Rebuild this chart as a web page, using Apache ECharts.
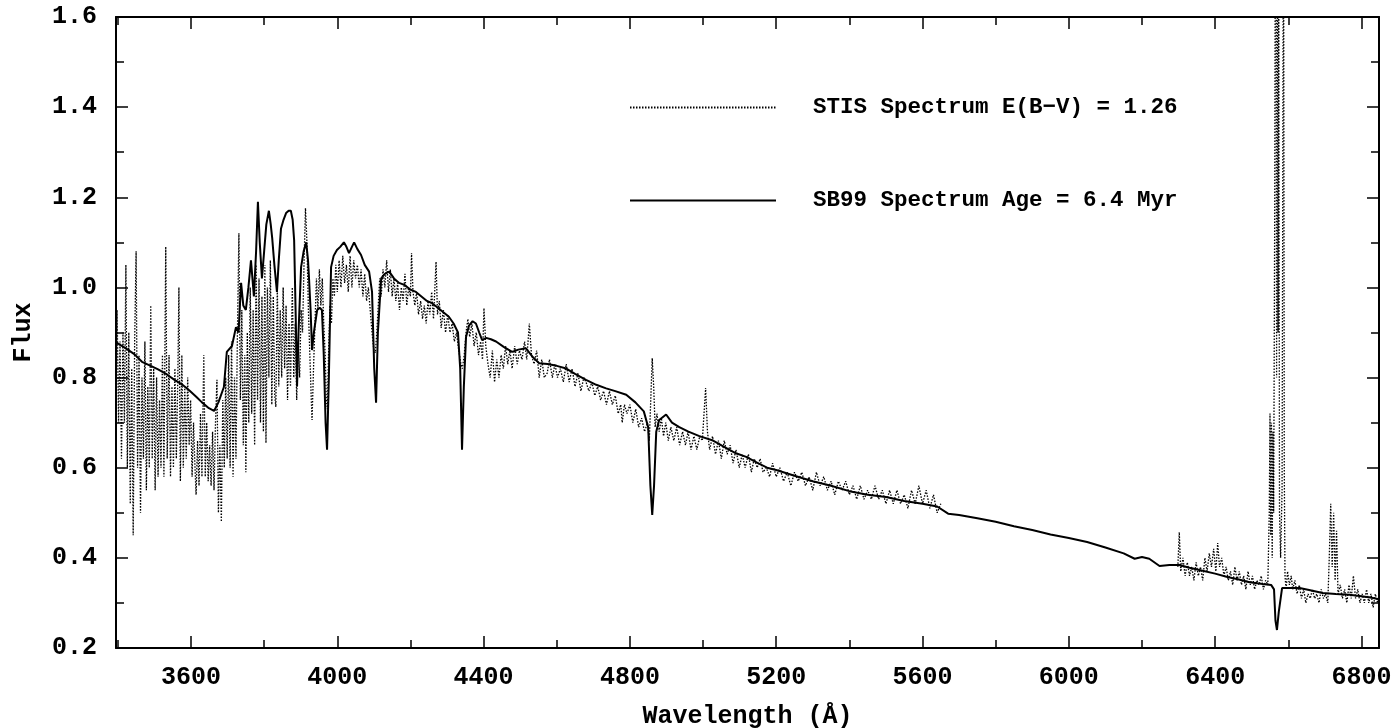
<!DOCTYPE html>
<html>
<head>
<meta charset="utf-8">
<script src="https://cdn.jsdelivr.net/npm/echarts@6/dist/echarts.min.js"></script>
<style>
  html, body { margin: 0; padding: 0; background: #fff; }
  #chart { width: 1395px; height: 728px; }
</style>
</head>
<body>
<div id="chart"></div>
<script>
// wavelength (A), flux pairs
var stisBlue = [
  [3395,0.74],[3398,0.95],[3402,0.7],[3406,0.88],[3410,0.62],[3414,0.9],[3418,0.7],[3422,1.05],[3426,0.6],[3430,0.9],
  [3434,0.52],[3438,0.82],[3442,0.45],[3446,0.88],[3450,1.08],[3454,0.6],[3458,0.85],[3462,0.5],[3466,0.8],[3470,0.62],
  [3474,0.88],[3478,0.55],[3482,0.78],[3486,0.6],[3490,0.96],[3494,0.62],[3498,0.82],[3502,0.55],[3506,0.8],[3510,0.58],
  [3514,0.75],[3518,0.6],[3522,0.85],[3526,0.58],[3531,1.09],[3535,0.62],[3540,0.85],[3544,0.58],[3548,0.78],[3552,0.6],
  [3556,0.82],[3560,0.62],[3564,0.8],[3567,1.0],[3571,0.57],[3575,0.85],[3579,0.6],[3583,0.78],[3587,0.62],[3591,0.8],
  [3595,0.65],[3599,0.75],[3603,0.58],[3607,0.7],[3611,0.6],[3614,0.54],[3618,0.66],[3622,0.56],[3626,0.72],[3630,0.58],
  [3635,0.85],[3639,0.58],[3643,0.7],[3647,0.57],[3651,0.65],[3655,0.56],[3659,0.68],[3663,0.55],[3667,0.7],[3671,0.795],
  [3675,0.5],[3679,0.65],[3683,0.48],[3687,0.75],[3691,0.6],[3695,0.8],[3699,0.62],[3703,0.85],[3707,0.6],[3711,0.88],
  [3715,0.58],[3719,0.8],[3723,0.62],[3727,0.9],[3731,1.12],[3735,0.75],[3739,0.95],[3743,0.65],[3747,0.85],[3750,0.59],
  [3754,0.9],[3758,0.7],[3762,1.0],[3766,0.72],[3770,0.95],[3774,0.65],[3778,1.05],[3782,0.75],[3786,1.02],[3790,0.7],
  [3794,0.98],[3798,0.68],[3802,1.05],[3805,0.655],[3809,1.0],[3813,0.8],[3817,1.06],[3821,0.74],[3825,0.98],[3829,0.76],
  [3832,0.735],[3836,1.0],[3840,0.78],[3844,0.95],[3848,0.8],[3852,1.0],[3856,0.82],[3860,0.96],[3864,0.75],[3868,0.92],
  [3872,0.78],[3877,1.0],[3881,0.8],[3885,0.92],[3889,0.75],[3893,0.88],[3897,0.8],[3901,0.95],[3905,0.9],[3909,1.05],
  [3913,1.176],[3917,1.1],[3921,0.95],[3925,0.85],[3929,0.75],[3931,0.706],[3935,0.82],[3939,0.92],[3943,1.02],[3947,0.95],
  [3951,1.04],[3955,0.96],[3959,1.02],[3963,0.92],[3967,0.85],[3970,0.75],[3973,0.73],[3976,0.85],[3980,0.96],[3984,0.92],
  [3988,1.02],[3992,0.98],[3996,1.05],[4000,0.99],[4005,1.06],[4010,1.0],[4015,1.07],[4020,1.01],[4025,1.05],[4030,0.99],
  [4035,1.07],[4040,1.0],[4045,1.06],[4050,1.02],[4055,1.05],[4060,1.0],[4065,1.04],[4070,0.98],[4075,1.03],[4080,0.97],
  [4085,1.0],[4090,0.95],[4095,0.9],[4100,0.86],[4104,0.855],[4108,0.9],[4112,0.96],[4116,1.02],[4120,0.98],[4125,1.04],
  [4130,1.0],[4135,1.06],[4140,0.99],[4145,1.04],[4150,0.98],[4155,1.02],[4160,0.97],[4165,1.01],[4170,0.95],[4175,1.0],
  [4180,0.97],[4185,1.03],[4190,0.96],[4195,1.0],[4200,0.98],[4203,1.076],[4207,0.99],[4212,0.96],[4217,0.99],[4222,0.94],
  [4228,0.97],[4233,0.93],[4238,0.96],[4243,0.92],[4248,0.97],[4253,0.94],[4258,0.99],[4263,0.93],[4270,1.057],[4274,0.94],
  [4279,0.97],[4284,0.91],[4290,0.95],[4296,0.9],[4302,0.94],[4308,0.9],[4314,0.92],[4320,0.88],[4326,0.9],[4332,0.86],
  [4338,0.83],[4342,0.82],[4347,0.85],[4352,0.9],[4357,0.93],[4362,0.89],[4368,0.92],[4374,0.87],[4380,0.9],[4386,0.85],
  [4392,0.88],[4397,0.84],[4401,0.954],[4406,0.87],[4412,0.83],[4418,0.8],[4424,0.86],[4430,0.79],[4436,0.84],[4442,0.8],
  [4448,0.85],[4454,0.82],[4460,0.87],[4466,0.83],[4472,0.86],[4478,0.82],[4485,0.87],[4492,0.83],[4498,0.86],[4505,0.84],
  [4512,0.88],[4518,0.84],[4525,0.92],[4531,0.85],[4538,0.83],[4545,0.86],[4552,0.8],[4559,0.84],[4566,0.8],[4574,0.81],
  [4580,0.84],[4588,0.8],[4595,0.83],[4602,0.8],[4610,0.82],[4618,0.79],[4626,0.83],[4634,0.79],[4642,0.82],[4650,0.78],
  [4658,0.81],[4666,0.77],[4674,0.8],[4680,0.79],[4688,0.77],[4696,0.79],[4704,0.76],[4712,0.78],[4720,0.75],[4728,0.77],
  [4736,0.74],[4744,0.77],[4752,0.74],[4760,0.76],[4768,0.72],[4775,0.74],[4779,0.7],[4785,0.74],[4792,0.72],[4800,0.74],
  [4808,0.7],[4816,0.73],[4824,0.69],[4832,0.71],[4840,0.68],[4848,0.7],[4853,0.66],[4857,0.75],[4861,0.843],[4865,0.78],
  [4869,0.69],[4874,0.72],[4880,0.68],[4886,0.71],[4892,0.67],[4898,0.7],[4905,0.66],[4912,0.69],[4920,0.66],[4928,0.69],
  [4936,0.65],[4944,0.68],[4952,0.65],[4959,0.68],[4967,0.64],[4975,0.67],[4983,0.64],[4991,0.67],[4998,0.66],[5007,0.777],
  [5012,0.68],[5018,0.64],[5026,0.67],[5034,0.63],[5042,0.66],[5050,0.62],[5058,0.66],[5066,0.63],[5074,0.65],[5082,0.61],
  [5090,0.64],[5099,0.6],[5107,0.63],[5115,0.6],[5124,0.63],[5132,0.59],[5140,0.62],[5148,0.6],[5156,0.62],[5164,0.59],
  [5173,0.6],[5182,0.58],[5190,0.61],[5200,0.58],[5210,0.6],[5220,0.57],[5230,0.59],[5240,0.56],[5250,0.59],[5260,0.57],
  [5270,0.59],[5280,0.56],[5290,0.58],[5300,0.55],[5310,0.59],[5320,0.56],[5330,0.58],[5340,0.55],[5350,0.57],[5360,0.54],
  [5370,0.57],[5380,0.55],[5390,0.57],[5400,0.54],[5410,0.56],[5420,0.53],[5430,0.56],[5440,0.53],[5450,0.55],[5460,0.53],
  [5470,0.56],[5480,0.53],[5490,0.55],[5500,0.52],[5510,0.55],[5520,0.52],[5530,0.55],[5540,0.52],[5550,0.54],[5560,0.51],
  [5570,0.55],[5580,0.52],[5590,0.56],[5600,0.52],[5610,0.55],[5620,0.51],[5630,0.54],[5640,0.5],[5650,0.52]
];
var stisRed = [
  [6298,0.38],[6302,0.457],[6306,0.37],[6312,0.4],[6318,0.36],[6324,0.39],[6330,0.36],[6336,0.38],[6342,0.35],[6348,0.39],
  [6354,0.36],[6360,0.38],[6366,0.35],[6372,0.4],[6378,0.37],[6384,0.41],[6390,0.38],[6396,0.42],[6402,0.37],[6407,0.433],
  [6412,0.38],[6418,0.4],[6424,0.36],[6430,0.38],[6436,0.35],[6442,0.37],[6448,0.34],[6454,0.38],[6460,0.35],[6466,0.37],
  [6472,0.34],[6478,0.36],[6484,0.33],[6490,0.37],[6496,0.34],[6502,0.36],[6508,0.33],[6514,0.35],[6520,0.34],[6526,0.36],
  [6532,0.33],[6538,0.35],[6544,0.34],[6548,0.5],[6550,0.72],[6552,0.45],[6554,0.7],[6556,0.4],[6558,0.68],[6560,0.5],
  [6563,1.2],[6566,2.4],[6568,0.8],[6570,2.4],[6572,0.9],[6574,1.7],[6576,0.5],[6579,0.4],[6583,0.55],[6587,2.0],
  [6589,0.6],[6591,0.36],[6594,0.33],[6598,0.37],[6603,0.34],[6608,0.36],[6612,0.33],[6618,0.35],[6624,0.32],[6630,0.34],
  [6636,0.31],[6642,0.33],[6648,0.3],[6654,0.32],[6660,0.31],[6666,0.33],[6672,0.31],[6678,0.32],[6684,0.3],[6690,0.33],
  [6696,0.31],[6702,0.32],[6708,0.3],[6712,0.4],[6716,0.52],[6720,0.38],[6724,0.5],[6728,0.35],[6732,0.46],[6736,0.32],
  [6742,0.34],[6748,0.31],[6754,0.33],[6760,0.3],[6766,0.34],[6772,0.31],[6778,0.36],[6784,0.31],[6790,0.33],[6796,0.3],
  [6802,0.32],[6808,0.3],[6814,0.33],[6820,0.3],[6826,0.32],[6832,0.29],[6838,0.32],[6844,0.3],[6848,0.31]
];
var sb99 = [
  [3395,0.878],[3420,0.866],[3445,0.852],[3466,0.835],[3490,0.826],[3510,0.818],[3532,0.808],[3555,0.795],[3575,0.785],
  [3595,0.772],[3615,0.757],[3630,0.745],[3649,0.732],[3663,0.726],[3675,0.745],[3690,0.779],[3698,0.857],[3712,0.87],
  [3723,0.912],[3730,0.9],[3737,1.01],[3743,0.96],[3750,0.95],[3757,1.0],[3764,1.06],[3772,0.98],[3778,1.08],[3783,1.19],
  [3788,1.1],[3794,1.02],[3800,1.08],[3806,1.14],[3813,1.17],[3818,1.14],[3822,1.11],[3828,1.05],[3835,0.99],[3840,1.06],
  [3846,1.13],[3853,1.15],[3860,1.165],[3867,1.17],[3873,1.17],[3878,1.15],[3882,1.105],[3886,0.95],[3890,0.78],[3894,0.9],
  [3901,1.045],[3908,1.08],[3915,1.1],[3920,1.06],[3923,1.016],[3927,0.95],[3931,0.861],[3936,0.9],[3945,0.95],[3952,0.955],
  [3958,0.95],[3963,0.85],[3968,0.7],[3972,0.64],[3977,0.8],[3983,1.045],[3990,1.07],[3999,1.083],[4008,1.09],[4018,1.1],
  [4025,1.09],[4032,1.076],[4040,1.09],[4046,1.1],[4055,1.085],[4065,1.072],[4075,1.05],[4087,1.035],[4095,0.99],[4101,0.82],
  [4106,0.744],[4111,0.9],[4120,1.02],[4130,1.03],[4142,1.035],[4155,1.02],[4169,1.01],[4185,1.005],[4200,0.995],[4215,0.99],
  [4230,0.98],[4245,0.97],[4259,0.965],[4275,0.955],[4290,0.945],[4305,0.935],[4318,0.92],[4330,0.9],[4336,0.82],[4341,0.64],
  [4346,0.78],[4352,0.89],[4360,0.915],[4370,0.925],[4379,0.92],[4388,0.9],[4396,0.883],[4407,0.888],[4420,0.885],[4434,0.88],
  [4455,0.868],[4478,0.857],[4495,0.862],[4516,0.865],[4535,0.845],[4552,0.832],[4575,0.83],[4600,0.826],[4626,0.82],
  [4650,0.808],[4680,0.795],[4708,0.784],[4735,0.776],[4760,0.77],[4790,0.762],[4815,0.745],[4838,0.725],[4850,0.69],
  [4856,0.56],[4861,0.495],[4866,0.56],[4872,0.68],[4880,0.706],[4899,0.718],[4915,0.7],[4935,0.69],[4960,0.68],[4990,0.67],
  [5025,0.661],[5060,0.645],[5090,0.632],[5118,0.624],[5150,0.61],[5175,0.6],[5200,0.595],[5250,0.582],[5300,0.57],
  [5350,0.56],[5400,0.548],[5450,0.54],[5500,0.535],[5550,0.526],[5600,0.52],[5640,0.514],[5670,0.498],[5700,0.495],
  [5750,0.488],[5800,0.48],[5850,0.47],[5900,0.462],[5950,0.452],[6000,0.444],[6050,0.435],[6100,0.423],[6150,0.41],
  [6180,0.398],[6200,0.402],[6220,0.398],[6248,0.382],[6275,0.384],[6302,0.384],[6330,0.378],[6357,0.373],[6400,0.365],
  [6431,0.358],[6465,0.352],[6494,0.346],[6530,0.342],[6553,0.34],[6561,0.33],[6565,0.26],[6569,0.24],[6574,0.28],
  [6583,0.333],[6631,0.333],[6660,0.328],[6694,0.322],[6730,0.32],[6767,0.318],[6800,0.315],[6825,0.312],[6848,0.308]
];

var xMajor = [3600, 4000, 4400, 4800, 5200, 5600, 6000, 6400, 6800];
var xMinor = [3400, 3800, 4200, 4600, 5000, 5400, 5800, 6200, 6600];
var xMin = 3395, xMax = 6848;

var stisName = 'STIS Spectrum E(B\u2212V) = 1.26';
var sb99Name = 'SB99 Spectrum Age = 6.4 Myr';

var font = 'Liberation Mono';
var black = '#000';

function xAx(pos, ticks, len, withLine, withLabel) {
  return {
    type: 'value', position: pos, min: xMin, max: xMax,
    axisLine: { show: withLine, lineStyle: { color: black, width: 2 } },
    axisTick: { show: true, inside: true, length: len, customValues: ticks, lineStyle: { color: black, width: 1.5 } },
    axisLabel: withLabel ? {
      show: true, customValues: ticks, margin: 17, color: black, fontFamily: font, fontWeight: 'bold', fontSize: 25,
      formatter: function (v) { return String(v); }
    } : { show: false },
    splitLine: { show: false }
  };
}

function yAx(pos, withLabel) {
  return {
    type: 'value', position: pos, min: 0.2, max: 1.6, interval: 0.2,
    axisLine: { show: true, lineStyle: { color: black, width: 2 } },
    axisTick: { show: true, inside: true, length: 12, lineStyle: { color: black, width: 1.5 } },
    minorTick: { show: true, splitNumber: 2, length: 8, lineStyle: { color: black, width: 1.5 } },
    axisLabel: withLabel ? {
      show: true, margin: 19, color: black, fontFamily: font, fontWeight: 'bold', fontSize: 25,
      formatter: function (v) { return v.toFixed(1); }
    } : { show: false },
    splitLine: { show: false }
  };
}

var xAxes = [
  xAx('bottom', xMajor, 12, true, true),
  xAx('bottom', xMinor, 8, false, false),
  xAx('top', xMajor, 12, true, false),
  xAx('top', xMinor, 8, false, false)
];
xAxes[0].name = 'Wavelength (\u00c5)';
xAxes[0].nameLocation = 'middle';
xAxes[0].nameGap = 56;
xAxes[0].nameTextStyle = { color: black, fontFamily: font, fontWeight: 'bold', fontSize: 25 };

var yAxes = [yAx('left', true), yAx('right', false)];
yAxes[0].name = 'Flux';
yAxes[0].nameLocation = 'middle';
yAxes[0].nameGap = 80;
yAxes[0].nameTextStyle = { color: black, fontFamily: font, fontWeight: 'bold', fontSize: 25 };

var legendText = { color: black, fontFamily: font, fontWeight: 'bold', fontSize: 22.5, lineHeight: 14, padding: [0, 0, 0, 32] };
var legendBase = {
  orient: 'vertical', left: 629, padding: 0, itemWidth: 146, itemHeight: 14,
  itemStyle: { opacity: 0 }, textStyle: legendText, selectedMode: false
};

var chart = echarts.init(document.getElementById('chart'));
chart.setOption({
  animation: false,
  backgroundColor: '#fff',
  color: [black, black],
  grid: { left: 116, right: 16, top: 17, bottom: 80, containLabel: false, outerBoundsMode: 'none' },
  legend: [
    Object.assign({ data: [stisName], top: 96 }, legendBase),
    Object.assign({ data: [sb99Name], top: 189 }, legendBase)
  ],
  xAxis: xAxes,
  yAxis: yAxes,
  series: [
    {
      name: stisName, type: 'line', xAxisIndex: 0, yAxisIndex: 0,
      data: stisBlue.concat([[5970, '-']], stisRed),
      showSymbol: false, symbol: 'none', clip: true,
      itemStyle: { color: black },
      lineStyle: { color: black, width: 1.3, type: [1.5, 1.5] }
    },
    {
      name: sb99Name, type: 'line', xAxisIndex: 0, yAxisIndex: 0,
      data: sb99, showSymbol: false, symbol: 'none', clip: true,
      itemStyle: { color: black },
      lineStyle: { color: black, width: 2 }
    }
  ]
});
</script>
</body>
</html>
